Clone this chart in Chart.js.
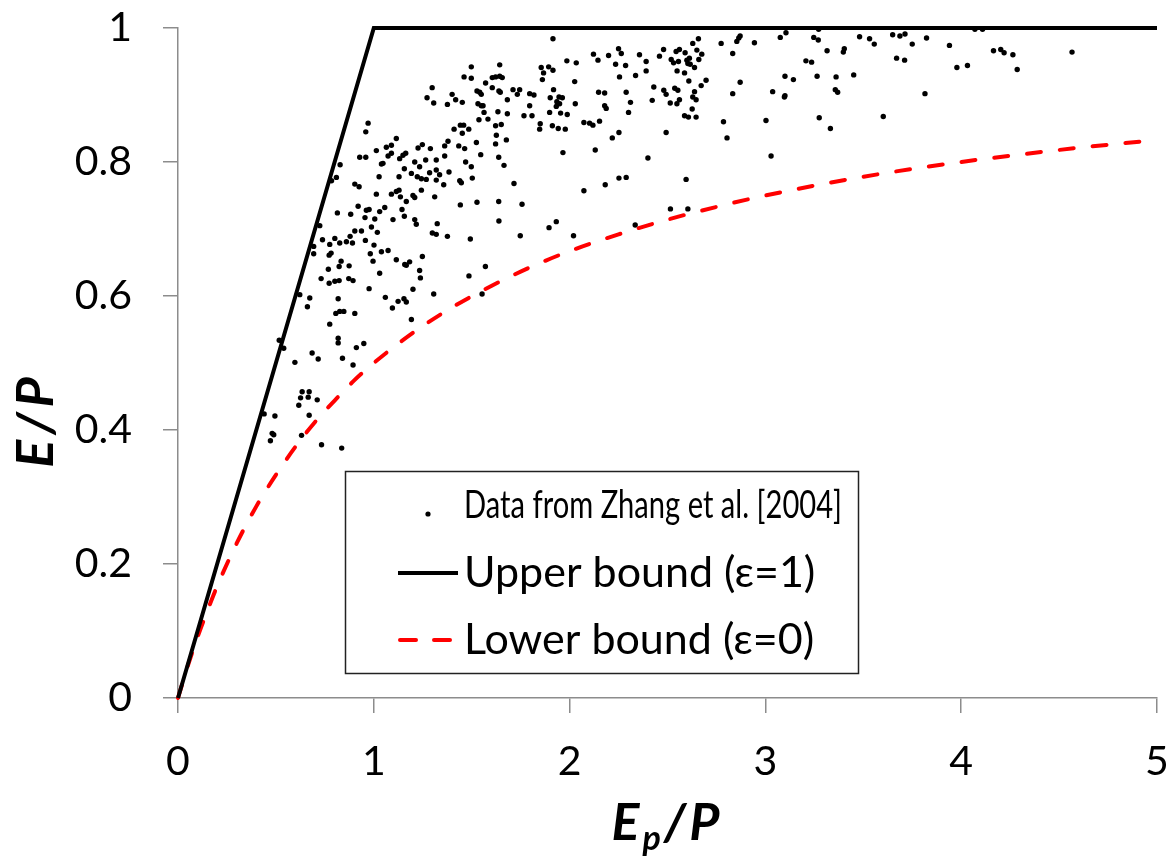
<!DOCTYPE html>
<html>
<head>
<meta charset="utf-8">
<script src="https://cdn.jsdelivr.net/npm/chart.js@4.4.1/dist/chart.umd.min.js"></script>
<style>
html, body { margin: 0; padding: 0; background: #fff; }
#wrap { width: 1170px; height: 856px; }
</style>
</head>
<body>
<div id="wrap"><canvas id="chart" width="1170" height="856"></canvas></div>
<script>
const zhangPoints = [
  [1.306,0.888],[0.971,0.858],[0.959,0.845],[1.115,0.835],[1.013,0.817],[1.064,0.822],[1.090,0.825],[1.248,0.826],
  [1.226,0.821],[1.289,0.820],[1.073,0.809],[1.090,0.813],[1.163,0.813],[1.149,0.810],[1.132,0.805],[0.928,0.807],
  [0.959,0.807],[1.047,0.798],[1.039,0.797],[1.209,0.800],[1.265,0.803],[1.234,0.793],[1.319,0.803],[1.319,0.788],
  [1.336,0.781],[1.156,0.790],[1.192,0.783],[1.285,0.784],[0.828,0.796],[0.809,0.777],[0.784,0.772],[1.027,0.778],
  [1.129,0.778],[1.222,0.778],[1.243,0.775],[1.268,0.774],[1.319,0.773],[0.903,0.767],[0.925,0.763],[1.090,0.752],
  [1.115,0.756],[1.129,0.758],[1.136,0.748],[1.013,0.752],[1.200,0.750],[1.209,0.747],[1.243,0.758],[1.311,0.748],
  [1.166,0.741],[0.920,0.734],[0.962,0.728],[0.976,0.729],[1.030,0.726],[1.056,0.732],[0.814,0.724],[0.882,0.722],
  [0.955,0.717],[1.005,0.715],[1.144,0.729],[1.156,0.719],[1.098,0.714],[1.209,0.714],[1.217,0.707],[1.324,0.708],
  [0.724,0.705],[1.299,0.694],[1.319,0.692],[0.903,0.697],[0.937,0.697],[0.988,0.703],[1.018,0.695],[0.879,0.689],
  [0.860,0.681],[0.891,0.679],[0.826,0.679],[0.801,0.686],[0.738,0.684],[0.775,0.677],[0.693,0.674],[0.693,0.663],
  [0.957,0.683],[1.001,0.676],[0.982,0.663],[1.039,0.666],[1.073,0.668],[1.115,0.654],[1.248,0.659],[0.996,0.652],
  [0.833,0.652],[0.874,0.645],[0.823,0.644],[0.782,0.664],[0.772,0.661],[0.768,0.640],[1.158,0.647],[1.183,0.651],
  [1.166,0.646],[1.234,0.638],[1.238,0.627],[1.030,0.634],[0.872,0.626],[0.894,0.623],[0.823,0.623],[0.801,0.622],
  [0.772,0.619],[0.731,0.626],[0.622,0.602],[0.673,0.597],[0.818,0.596],[0.976,0.611],[1.200,0.610],[1.059,0.598],
  [1.306,0.603],[1.154,0.596],
  [0.661,0.584],[1.124,0.592],[1.166,0.591],[1.095,0.582],[0.806,0.574],[0.826,0.577],[0.847,0.577],[0.903,0.574],
  [1.192,0.565],[0.775,0.558],[0.818,0.537],[0.818,0.530],[0.911,0.523],[0.949,0.529],[0.517,0.534],[0.540,0.522],
  [0.685,0.515],[0.716,0.506],[0.597,0.501],[0.840,0.507],[0.894,0.497],[0.634,0.457],[0.670,0.457],[0.626,0.448],
  [0.665,0.449],[0.711,0.445],[0.617,0.437],[0.440,0.424],[0.495,0.421],[0.670,0.422],[0.481,0.395],[0.489,0.393],
  [0.631,0.392],[0.472,0.384],[0.733,0.378],[0.836,0.373],
  [1.498,0.942],[1.643,0.945],[1.461,0.927],[1.498,0.925],[1.605,0.926],[1.622,0.927],[1.643,0.928],[1.656,0.926],
  [1.855,0.941],[1.893,0.942],[1.915,0.937],[1.867,0.933],[1.861,0.923],[1.986,0.951],[2.034,0.948],[2.145,0.952],
  [2.235,0.946],[2.255,0.927],[2.026,0.920],[1.298,0.911],[1.400,0.901],[1.272,0.896],[1.376,0.886],[1.418,0.893],
  [1.452,0.889],[1.527,0.906],[1.541,0.904],[1.549,0.901],[1.571,0.918],[1.605,0.911],[1.639,0.906],[1.646,0.904],
  [1.711,0.908],[1.745,0.908],[1.733,0.901],[1.796,0.902],[1.818,0.900],[1.918,0.908],[1.901,0.896],[1.946,0.897],
  [1.963,0.896],[1.935,0.890],[1.949,0.887],[1.932,0.883],[2.029,0.887],[2.148,0.904],[2.179,0.903],[2.179,0.884],
  [2.187,0.880],[1.532,0.887],[1.549,0.884],[1.558,0.884],[1.682,0.893],[1.634,0.875],[1.682,0.872],[1.563,0.874],
  [1.767,0.869],[1.808,0.869],[1.796,0.884],[1.898,0.874],[1.954,0.873],[1.988,0.871],[1.850,0.857],[1.847,0.849],
  [1.912,0.854],[1.942,0.850],[1.978,0.849],[2.073,0.859],[2.102,0.858],[2.119,0.855],[2.153,0.861],[2.252,0.844],
  [2.218,0.836],[1.537,0.863],[1.583,0.864],[1.651,0.856],[1.622,0.854],[1.442,0.855],[1.459,0.855],[1.452,0.843],
  [1.410,0.849],[1.485,0.849],[1.626,0.840],[1.677,0.833],[1.622,0.827],[1.524,0.829],[1.379,0.831],[1.362,0.824],
  [1.434,0.824],[1.464,0.820],[1.546,0.811],[1.638,0.807],[1.665,0.795],[1.469,0.800],[1.498,0.793],[1.362,0.809],
  [1.384,0.785],[1.503,0.776],[1.439,0.772],[1.447,0.769],[1.357,0.766],[1.716,0.768],[1.442,0.736],[1.527,0.740],
  [1.638,0.741],[1.757,0.737],[1.966,0.814],[2.131,0.818],[2.252,0.776],[2.182,0.766],[2.073,0.757],[1.639,0.712],
  [1.376,0.689],[1.493,0.685],[1.748,0.690],[1.895,0.702],[1.932,0.711],[2.020,0.690],
  [1.486,0.630],[1.570,0.644],[1.553,0.603],[2.335,0.706],[2.515,0.730],[2.604,0.730],[1.915,0.984],[2.122,0.961],
  [2.199,0.959],[2.250,0.969],[2.264,0.962],[2.357,0.960],[2.286,0.944],[2.391,0.950],[2.391,0.936],[2.337,0.929],
  [2.459,0.958],[2.480,0.968],[2.519,0.953],[2.531,0.948],[2.556,0.950],[2.544,0.965],[2.561,0.968],[2.590,0.963],
  [2.599,0.952],[2.612,0.955],[2.604,0.947],[2.616,0.946],[2.638,0.941],[2.660,0.953],[2.650,0.967],[2.675,0.961],
  [2.629,0.977],[2.658,0.984],[2.549,0.936],[2.587,0.933],[2.609,0.921],[2.697,0.922],[2.672,0.914],[2.638,0.905],
  [2.629,0.897],[2.646,0.893],[2.626,0.879],[2.587,0.869],[2.607,0.867],[2.646,0.867],[2.553,0.907],[2.561,0.893],
  [2.548,0.887],[2.537,0.910],[2.514,0.888],[2.481,0.907],[2.493,0.901],[2.430,0.912],[2.422,0.892],[2.289,0.904],
  [2.311,0.889],[2.301,0.874],[2.493,0.844],[2.400,0.806],[2.289,0.777],[2.595,0.774],[2.786,0.860],[2.804,0.836],
  [2.774,0.977],[2.833,0.962],[2.854,0.980],[2.864,0.985],[2.871,0.988],[2.944,0.978],[2.871,0.919],[2.833,0.902],
  [3.003,0.862],[3.029,0.809],[3.037,0.905],[3.076,0.986],[3.105,0.993],[3.100,0.928],[3.143,0.923],[3.100,0.899],
  [3.097,0.897],
  [3.272,0.998],[3.247,0.986],[3.270,0.982],[3.315,0.966],[3.207,0.951],[3.236,0.949],[3.264,0.928],[3.361,0.927],
  [3.357,0.908],[3.369,0.904],[3.275,0.866],[3.332,0.850],[3.398,0.964],[3.403,0.969],[3.451,0.930],[3.481,0.987],
  [3.532,0.984],[3.556,0.976],[3.602,0.868],[3.650,0.990],[3.670,0.955],[3.687,0.988],[3.713,0.991],[3.711,0.952],
  [3.750,0.976],[3.815,0.902],[3.823,0.985],[3.940,0.974],[3.978,0.941],[4.032,0.944],[4.070,0.998],[4.109,0.998],
  [4.165,0.966],[4.202,0.968],[4.219,0.963],[4.264,0.960],[4.286,0.938],[4.566,0.964]
];

// bounds
const upperX = [0, 1, 5];
const upperY = [0, 1, 1];
const lowerX = [0, 0.05, 0.1, 0.15, 0.2, 0.3, 0.4, 0.5, 0.6, 0.7, 0.8, 0.9, 1, 1.2, 1.4, 1.6, 1.8, 2, 2.25, 2.5, 2.75, 3, 3.5, 4, 4.5, 5];
const lowerY = [0, 0.048, 0.091, 0.130, 0.167, 0.231, 0.286, 0.333, 0.375, 0.412, 0.444, 0.474, 0.5, 0.545, 0.583, 0.615, 0.643, 0.667, 0.692, 0.714, 0.733, 0.75, 0.778, 0.8, 0.818, 0.833];

const xTicks = [0, 1, 2, 3, 4, 5];
const yTicks = [0, 0.2, 0.4, 0.6, 0.8, 1];
const seriesNames = ['Data from Zhang et al. [2004]', 'Upper bound (\u03b5=1)', 'Lower bound (\u03b5=0)'];

const FONT = 'Lato, "Open Sans", sans-serif';
const AXIS_GREY = '#8c8c8c';

const pairs = (xs, ys) => xs.map((x, i) => ({ x: x, y: ys[i] }));

// axis titles and the boxed legend, drawn straight on the canvas
const decorations = {
    id: 'decorations',
    afterDraw(chart) {
        const ctx = chart.ctx;
        ctx.save();
        ctx.fillStyle = '#000';

        // y title
        ctx.save();
        ctx.translate(36, 420);
        ctx.rotate(-Math.PI / 2);
        ctx.font = 'italic bold 52px ' + FONT;
        ctx.letterSpacing = '5px';
        ctx.textAlign = 'center';
        ctx.textBaseline = 'middle';
        ctx.fillText('E/P', 0, 0);
        ctx.restore();

        // x title with subscript p
        const big = 'italic bold 52px ' + FONT;
        const small = 'italic bold 34px ' + FONT;
        ctx.letterSpacing = '3px';
        ctx.textBaseline = 'alphabetic';
        ctx.textAlign = 'left';
        ctx.font = big;
        const wE = ctx.measureText('E').width;
        const wRest = ctx.measureText('/P').width;
        ctx.font = small;
        const wp = ctx.measureText('p').width;
        let tx = 667 - (wE + wp + wRest) / 2;
        const base = 840;
        ctx.font = big;
        ctx.fillText('E', tx, base);
        tx += wE;
        ctx.font = small;
        ctx.fillText('p', tx, base + 10);
        tx += wp;
        ctx.font = big;
        ctx.fillText('/P', tx, base);
        ctx.letterSpacing = '0px';

        // legend
        const box = { left: 345.5, top: 471.5, w: 513, h: 202 };
        ctx.fillStyle = '#fff';
        ctx.fillRect(box.left, box.top, box.w, box.h);
        ctx.strokeStyle = '#222';
        ctx.lineWidth = 1.5;
        ctx.strokeRect(box.left, box.top, box.w, box.h);

        const rows = [505, 573, 640];
        ctx.fillStyle = '#000';
        ctx.beginPath();
        ctx.arc(428, rows[0] + 9, 2.6, 0, Math.PI * 2);
        ctx.fill();

        ctx.lineCap = 'butt';
        ctx.strokeStyle = '#000';
        ctx.lineWidth = 4;
        ctx.beginPath();
        ctx.moveTo(398, rows[1]);
        ctx.lineTo(458, rows[1]);
        ctx.stroke();

        ctx.strokeStyle = '#ff0000';
        ctx.lineCap = 'round';
        ctx.beginPath();
        ctx.moveTo(400, rows[2]);
        ctx.lineTo(416, rows[2]);
        ctx.moveTo(434, rows[2]);
        ctx.lineTo(450, rows[2]);
        ctx.stroke();

        ctx.fillStyle = '#000';
        ctx.textBaseline = 'middle';
        ctx.font = '39px ' + FONT;
        ctx.fillText(seriesNames[0], 464, rows[0], 378);
        ctx.font = '43px ' + FONT;
        ctx.fillText(seriesNames[1], 464, rows[1]);
        ctx.fillText(seriesNames[2], 464, rows[2]);
        ctx.restore();
    }
};

new Chart(document.getElementById('chart').getContext('2d'), {
    type: 'scatter',
    data: {
        datasets: [{
            label: seriesNames[0],
            data: zhangPoints.map(p => ({ x: p[0], y: p[1] })),
            pointRadius: 2.7,
            pointBackgroundColor: '#000',
            pointBorderWidth: 0,
            showLine: false,
            order: 3
        }, {
            label: seriesNames[1],
            data: pairs(upperX, upperY),
            showLine: true,
            borderColor: '#000',
            borderWidth: 4,
            pointRadius: 0,
            clip: false,
            order: 1
        }, {
            label: seriesNames[2],
            data: pairs(lowerX, lowerY),
            showLine: true,
            borderColor: '#ff0000',
            borderWidth: 4,
            borderDash: [14, 19],
            borderCapStyle: 'round',
            cubicInterpolationMode: 'monotone',
            pointRadius: 0,
            clip: false,
            order: 2
        }]
    },
    options: {
        responsive: false,
        animation: false,
        devicePixelRatio: 1,
        layout: { padding: { top: 28, right: 13, left: 0, bottom: 0 } },
        plugins: {
            legend: { display: false },
            tooltip: { enabled: false }
        },
        scales: {
            x: {
                type: 'linear',
                min: 0,
                max: 5,
                afterBuildTicks: s => { s.ticks = xTicks.map(v => ({ value: v })); },
                afterFit: s => { s.height = 158; s.paddingLeft = 0; s.paddingRight = 0; },
                grid: { drawOnChartArea: false, drawTicks: true, tickLength: 15, color: AXIS_GREY, lineWidth: 1.5 },
                border: { display: true, color: AXIS_GREY, width: 1.5 },
                ticks: { color: '#000', font: { family: FONT, size: 41 }, padding: 24, maxRotation: 0 }
            },
            y: {
                type: 'linear',
                min: 0,
                max: 1,
                afterBuildTicks: s => { s.ticks = yTicks.map(v => ({ value: v })); },
                afterFit: s => { s.width = 178; s.paddingTop = 0; s.paddingBottom = 0; },
                grid: { drawOnChartArea: false, drawTicks: true, tickLength: 15, color: AXIS_GREY, lineWidth: 1.5 },
                border: { display: true, color: AXIS_GREY, width: 1.5 },
                ticks: { color: '#000', font: { family: FONT, size: 41 }, padding: 31, callback: v => String(v) }
            }
        }
    },
    plugins: [decorations]
});
</script>
</body>
</html>
